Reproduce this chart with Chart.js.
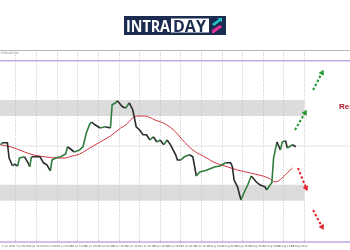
<!DOCTYPE html>
<html>
<head>
<meta charset="utf-8">
<script src="https://cdn.jsdelivr.net/npm/chart.js@4/dist/chart.umd.min.js"></script>
<style>
  html, body { margin: 0; padding: 0; background: #fff; }
  canvas { display: block; }
</style>
</head>
<body>
<canvas id="fxChart" width="350" height="250"></canvas>
<script>
// H4 bars (index) and closing prices
const priceBars = [
  -9, -8, -5, -4, -2, -1, 1, 2, 5, 7, 8, 9, 11, 14, 16, 18, 20, 21, 23, 26,
  29, 30, 31, 34, 37, 39, 40, 41, 43, 44, 46, 49, 52, 55, 56, 58, 59, 62, 64, 66,
  68, 69, 70, 72, 74, 76, 78, 80, 82, 84, 86, 88, 90, 93, 94, 96, 98, 101, 103, 105,
  107, 110, 113, 116, 119, 122, 125, 126, 127, 129, 131, 133, 135, 137, 140, 142, 145, 146, 148, 149,
  150, 152, 154, 155, 157, 158, 161, 163
];
const priceCloses = [
  1.1643, 1.1648, 1.1648, 1.1610, 1.1590, 1.1595, 1.1590, 1.1610, 1.1613, 1.1598, 1.1588, 1.1613, 1.1613, 1.1613, 1.1598, 1.1593, 1.1578, 1.1605, 1.1610, 1.1613,
  1.1620, 1.1638, 1.1635, 1.1625, 1.1630, 1.1638, 1.1655, 1.1673, 1.1695, 1.1700, 1.1693, 1.1685, 1.1688, 1.1685, 1.1743, 1.1748, 1.1753, 1.1738, 1.1735, 1.1748,
  1.1730, 1.1710, 1.1688, 1.1680, 1.1668, 1.1668, 1.1655, 1.1663, 1.1650, 1.1655, 1.1643, 1.1655, 1.1643, 1.1618, 1.1605, 1.1605, 1.1613, 1.1618, 1.1613, 1.1565,
  1.1575, 1.1578, 1.1583, 1.1588, 1.1590, 1.1598, 1.1598, 1.1588, 1.1555, 1.1538, 1.1505, 1.1525, 1.1543, 1.1565, 1.1550, 1.1543, 1.1538, 1.1530, 1.1543, 1.1548,
  1.1610, 1.1650, 1.1630, 1.1650, 1.1653, 1.1635, 1.1643, 1.1638
];

// moving average (red curve)
const maBars = [-9, -3, 5, 10, 17, 23, 29, 31, 37, 43, 49, 55, 61, 64, 68, 71, 75, 81, 87, 93, 97, 103, 111, 116, 123, 129, 136, 147, 151, 155, 158, 161];
const maValues = [
  1.1643, 1.1638, 1.1625, 1.1618, 1.1613, 1.1610, 1.1610, 1.1613, 1.1620, 1.1635, 1.1650, 1.1665, 1.1685, 1.1693, 1.1710, 1.1715,
  1.1715, 1.1705, 1.1695, 1.1675, 1.1655, 1.1630, 1.1610, 1.1598, 1.1588, 1.1580, 1.1573, 1.1560, 1.1550, 1.1560, 1.1573, 1.1585
];

// grey zones [top, bottom] and the bar where they stop
const zoneTops = [1.1755, 1.1543];
const zoneBottoms = [1.1715, 1.1503];
const zoneEndBar = 168;

// horizontal levels
const purpleLevels = [1.1853, 1.1400];
const greyLevel = 1.1640;

// dashed arrows: two up (green), two down (red)
const arrowStartBars = [162.5, 173.0, 164.2, 173.0];
const arrowStartPrices = [1.1680, 1.1780, 1.1585, 1.1480];
const arrowEndBars = [168.3, 178.2, 168.9, 178.2];
const arrowEndPrices = [1.1723, 1.1823, 1.1535, 1.1438];

// time axis
const gridBars = [0, 12, 24, 36, 48, 60, 72, 84, 96, 108, 120, 132, 144, 156, 168];
const dateLabels = [
  '6 Jul 2020', '7 Jul 08:00', '8 Jul 16:00', '10 Jul 2020', '13 Jul 08:00', '14 Jul 16:00',
  '16 Jul 2020', '17 Jul 08:00', '20 Jul 16:00', '22 Jul 2020', '23 Jul 08:00', '24 Jul 16:00',
  '28 Jul 2020', '29 Jul 08:00', '30 Jul 16:00', '3 Aug 2020', '4 Aug 08:00', '5 Aug 16:00',
  '7 Aug 2020', '10 Aug 08:00', '11 Aug 16:00', '13 Aug 2020'
];
const labelBars = dateLabels.map((_, i) => -8 + i * 8);

const xMin = -9.3, xMax = 194.5;
const yMin = 1.13975, yMax = 1.188;

const toPoints = (xs, ys) => xs.map((x, i) => ({ x: x, y: ys[i] }));
const flat = (v, x0, x1) => [{ x: x0, y: v }, { x: x1, y: v }];

const datasets = [];

// price line, rising parts green like the candles
datasets.push({
  data: toPoints(priceBars, priceCloses),
  borderWidth: 1.6,
  borderColor: '#2c2c2c',
  segment: {
    borderColor: c => c.p1.parsed.y > c.p0.parsed.y ? '#2f7d3c' : '#2c2c2c'
  },
  pointRadius: 0,
  tension: 0
});

datasets.push({
  data: toPoints(maBars, maValues),
  borderColor: '#d2343e',
  borderWidth: 1,
  pointRadius: 0,
  cubicInterpolationMode: 'monotone'
});

// arrows
arrowStartBars.forEach((b, i) => {
  const col = i < 2 ? '#22962e' : '#e3202b';
  datasets.push({
    data: [{ x: b, y: arrowStartPrices[i] }, { x: arrowEndBars[i], y: arrowEndPrices[i] }],
    borderColor: col,
    borderWidth: 2,
    borderDash: [2.5, 2],
    pointStyle: 'triangle',
    pointRadius: [0, 3],
    pointBackgroundColor: col,
    pointBorderColor: col,
    pointBorderWidth: 0.5,
    pointRotation: ctx => {
      const sx = ctx.chart.scales.x, sy = ctx.chart.scales.y;
      const dx = sx.getPixelForValue(arrowEndBars[i]) - sx.getPixelForValue(b);
      const dy = sy.getPixelForValue(arrowEndPrices[i]) - sy.getPixelForValue(arrowStartPrices[i]);
      return Math.atan2(dx, -dy) * 180 / Math.PI;
    }
  });
});

purpleLevels.forEach(v => {
  datasets.push({ data: flat(v, xMin, xMax), borderColor: '#a07fd8', borderWidth: 1, pointRadius: 0 });
});

datasets.push({ data: flat(greyLevel, xMin, xMax), borderColor: '#e2e2e2', borderWidth: 1, pointRadius: 0 });

// zones: top line filled down to the next dataset
zoneTops.forEach((t, i) => {
  datasets.push({
    data: flat(t, xMin, zoneEndBar),
    borderWidth: 0, borderColor: 'rgba(0,0,0,0)', pointRadius: 0,
    fill: '+1', backgroundColor: 'rgba(196,196,196,0.6)'
  });
  datasets.push({
    data: flat(zoneBottoms[i], xMin, zoneEndBar),
    borderWidth: 0, borderColor: 'rgba(0,0,0,0)', pointRadius: 0, fill: false
  });
});

// logo, frame and notes
const decor = {
  id: 'decor',
  afterDraw(chart) {
    const ctx = chart.ctx;
    const area = chart.chartArea;
    ctx.save();

    ctx.strokeStyle = '#b8b8b8';
    ctx.lineWidth = 1;
    ctx.beginPath();
    ctx.moveTo(0, area.top + 0.5);
    ctx.lineTo(chart.width, area.top + 0.5);
    ctx.stroke();

    ctx.fillStyle = '#8a8a8a';
    ctx.font = '3px "DejaVu Sans"';
    ctx.textBaseline = 'top';
    ctx.textAlign = 'left';
    ctx.fillText('EURUSD,H4', 1, area.top + 1.5);

    // INTRADAY badge
    ctx.fillStyle = '#1c2b50';
    ctx.fillRect(124, 16, 102, 19);
    ctx.fillStyle = '#ffffff';
    ctx.fillRect(171, 18.5, 38, 14);
    ctx.textBaseline = 'alphabetic';
    ctx.font = 'bold 16px "Open Sans"';
    ctx.fillStyle = '#ffffff';
    ctx.fillText('INTRA', 126, 31.5, 44);
    ctx.fillStyle = '#1c2b50';
    ctx.fillText('DAY', 173, 31.5, 35);
    // little arrow icon
    ctx.fillStyle = '#22c4c9';
    ctx.beginPath();
    ctx.moveTo(212, 24); ctx.lineTo(219, 19); ctx.lineTo(217, 18); ctx.lineTo(222, 18);
    ctx.lineTo(222, 22); ctx.lineTo(220.5, 21); ctx.lineTo(214, 26); ctx.closePath();
    ctx.fill();
    ctx.fillStyle = '#e2319b';
    ctx.beginPath();
    ctx.moveTo(212, 30); ctx.lineTo(220, 25); ctx.lineTo(222, 27); ctx.lineTo(214, 33);
    ctx.lineTo(212, 33); ctx.closePath();
    ctx.fill();

    const sx = chart.scales.x, sy = chart.scales.y;
    ctx.fillStyle = '#b3122a';
    ctx.font = 'bold 8px "Liberation Sans"';
    ctx.textBaseline = 'middle';
    ctx.fillText('Resistance', sx.getPixelForValue(188.1), sy.getPixelForValue(1.1737));
    ctx.restore();
  }
};

const noSidePadding = scale => { scale.paddingLeft = 0; scale.paddingRight = 0; };

new Chart(document.getElementById('fxChart'), {
  type: 'line',
  data: { datasets: datasets },
  options: {
    responsive: false,
    animation: false,
    layout: { autoPadding: false, padding: { top: 50, left: 0, right: 0, bottom: 0 } },
    plugins: { legend: { display: false }, tooltip: { enabled: false } },
    scales: {
      // date labels every 8 bars
      xt: {
        type: 'linear',
        position: 'bottom',
        weight: 1,
        min: xMin,
        max: xMax,
        afterBuildTicks: scale => { scale.ticks = labelBars.map(v => ({ value: v })); },
        afterFit: scale => { scale.height = 7; noSidePadding(scale); },
        grid: { display: false, drawTicks: false, tickLength: 0 },
        border: { display: false },
        ticks: {
          autoSkip: false,
          maxRotation: 0,
          align: 'start',
          padding: 2,
          color: '#6a6a6a',
          font: { size: 2.6, family: 'DejaVu Sans' },
          callback: v => {
            const i = labelBars.indexOf(v);
            return i >= 0 ? dateLabels[i] : '';
          }
        }
      },
      // vertical dotted grid every 12 bars
      x: {
        type: 'linear',
        position: 'bottom',
        weight: 2,
        min: xMin,
        max: xMax,
        afterBuildTicks: scale => { scale.ticks = gridBars.map(v => ({ value: v })); },
        afterFit: scale => { scale.height = 0; noSidePadding(scale); },
        grid: { drawTicks: false, color: '#c6c6c6' },
        border: { display: false, dash: [1, 1.5] },
        ticks: { display: false }
      },
      y: {
        display: false,
        min: yMin,
        max: yMax
      }
    }
  },
  plugins: [decor]
});
</script>
</body>
</html>
